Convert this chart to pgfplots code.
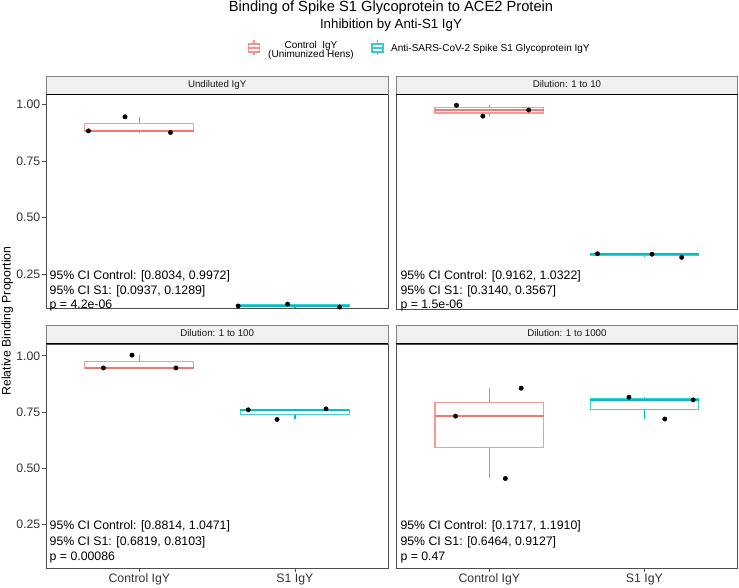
\documentclass[border=0pt]{standalone}
\usepackage{pgfplots}
\pgfplotsset{compat=1.18}
\usepackage{fontspec}
\setmainfont{Liberation Sans}
\definecolor{ctrl}{HTML}{F8766D}
\definecolor{sone}{HTML}{00BFC4}
\definecolor{stripbg}{HTML}{F0F0F0}
\definecolor{frame}{HTML}{4D4D4D}
\definecolor{axtext}{HTML}{333333}
% color, pos, left, right, lower whisker, Q1, median, Q3, upper whisker
\newcommand{\gbox}[9]{%
\addplot[#1, line width=1.1bp] coordinates {(#2,#5) (#2,#6)};
\addplot[#1, line width=1.1bp] coordinates {(#2,#8) (#2,#9)};
\addplot[draw=#1!75!white, fill=white, line width=1.2bp] coordinates {(#3,#6) (#4,#6) (#4,#8) (#3,#8)} -- cycle;
\addplot[#1, line width=2bp] coordinates {(#3,#7) (#4,#7)};}
\pgfplotsset{
  panel/.style={scale only axis, clip=false, xmin=0.4, xmax=2.6,
    axis line style={draw=frame, line width=0.7bp},
    tick align=outside, major tick length=4bp,
    tick style={draw=frame, line width=0.6bp},
    xtick pos=lower, ytick pos=left,
    ticklabel style={font=\fontsize{12.3bp}{14bp}\selectfont, text=axtext},
    yticklabel style={inner sep=1.5bp},
    xticklabel style={inner sep=2bp},
    /pgf/number format/assume math mode=true},
  top/.style={panel, width=342.3bp, height=214.6bp, ymin=0.100, ymax=1.045, xtick=\empty},
  bot/.style={panel, width=342.3bp, height=224bp, ymin=0.058, ymax=1.053,
    xtick={1,2}, xticklabels={Control IgY,S1 IgY}},
  lft/.style={ytick={0.25,0.5,0.75,1}, yticklabels={0.25,0.50,0.75,1.00}},
  rgt/.style={ytick=\empty, width=341.2bp},
  dots/.style={only marks, mark=*, mark size=2.2bp, black},
}
\begin{document}
\begin{tikzpicture}
\begin{scope}[x=1bp,y=1bp]
\path[use as bounding box] (0,0) rectangle (739,586);
% titles
\node[anchor=base, inner sep=0] at (391,574) {\fontsize{14.7bp}{16bp}\selectfont Binding of Spike S1 Glycoprotein to ACE2 Protein};
\node[anchor=base, inner sep=0] at (391,557.7) {\fontsize{13.3bp}{15bp}\selectfont Inhibition by Anti-S1 IgY};
% legend
\begin{scope}[ctrl!80!white, line width=1.1bp]
\draw (254,545.5) -- (254,542); \draw (254,534) -- (254,530.5);
\draw (248.5,534) rectangle (259.5,542); \draw (248.5,538) -- (259.5,538);
\end{scope}
\begin{scope}[sone!80!white, line width=1.1bp]
\draw (377.5,545.5) -- (377.5,542); \draw (377.5,534) -- (377.5,530.5);
\draw (372,534) rectangle (383,542); \draw (372,538) -- (383,538);
\end{scope}
\node[anchor=base, inner sep=0] at (311,537.5) {\fontsize{10bp}{11bp}\selectfont Control\ \ IgY};
\node[anchor=base, inner sep=0] at (311,528) {\fontsize{10bp}{11bp}\selectfont (Unimunized Hens)};
\node[anchor=base west, inner sep=0] at (391,534.5) {\fontsize{10bp}{11bp}\selectfont Anti-SARS-CoV-2 Spike S1 Glycoprotein IgY};
% y label
\node[rotate=90, inner sep=0] at (7.5,265) {\fontsize{12.3bp}{14bp}\selectfont Relative Binding Proportion};
\end{scope}

% ---------- TL: Undiluted
\begin{axis}[top, lft, at={(46bp,276.7bp)}, anchor=below south west]
\gbox{ctrl}{1}{0.65}{1.35}{0.875}{0.8785}{0.882}{0.913}{0.944}
\gbox{sone}{2}{1.65}{2.35}{0.106}{0.1085}{0.111}{0.115}{0.119}
\addplot[dots] coordinates {(0.673,0.882) (0.908,0.944) (1.200,0.875)};
\addplot[dots] coordinates {(1.635,0.111) (1.953,0.119) (2.287,0.106)};
\end{axis}
% ---------- TR: 1 to 10
\begin{axis}[top, rgt, at={(396.3bp,276.7bp)}, anchor=below south west]
\gbox{ctrl}{1}{0.65}{1.35}{0.949}{0.9625}{0.976}{0.9865}{0.997}
\gbox{sone}{2}{1.65}{2.35}{0.327}{0.334}{0.341}{0.342}{0.343}
\addplot[dots] coordinates {(0.788,0.997) (0.958,0.949) (1.253,0.976)};
\addplot[dots] coordinates {(1.697,0.343) (2.049,0.341) (2.240,0.327)};
\end{axis}
% ---------- BL: 1 to 100
\begin{axis}[bot, lft, at={(46bp,242.5bp)}, anchor=above north west]
\gbox{ctrl}{1}{0.65}{1.35}{0.946}{0.946}{0.946}{0.9745}{1.003}
\gbox{sone}{2}{1.65}{2.35}{0.717}{0.7385}{0.760}{0.762}{0.764}
\addplot[dots] coordinates {(0.769,0.946) (0.953,1.003) (1.235,0.946)};
\addplot[dots] coordinates {(1.700,0.760) (1.885,0.717) (2.200,0.764)};
\end{axis}
% ---------- BR: 1 to 1000
\begin{axis}[bot, rgt, at={(396.3bp,242.5bp)}, anchor=above north west]
\gbox{ctrl}{1}{0.65}{1.35}{0.455}{0.5935}{0.732}{0.794}{0.856}
\gbox{sone}{2}{1.65}{2.35}{0.719}{0.7615}{0.804}{0.810}{0.816}
\addplot[dots] coordinates {(0.782,0.732) (1.205,0.856) (1.103,0.455)};
\addplot[dots] coordinates {(1.900,0.816) (2.314,0.804) (2.131,0.719)};
\end{axis}

\begin{scope}[x=1bp,y=1bp]
% strips
\foreach \xa/\xb/\lab in {46/388.3/Undiluted IgY, 396.3/737.5/{Dilution: 1 to 10}}{
  \filldraw[fill=stripbg, draw=frame!70!white, line width=0.6bp] (\xa,491.3) rectangle (\xb,510);
  \draw[black, line width=1.2bp] (\xa,491.3) -- (\xb,491.3);
  \node[inner sep=0, text=black!90] at ({(\xa+\xb)/2},500.7) {\fontsize{9.7bp}{11bp}\selectfont\strut \lab};
}
\foreach \xa/\xb/\lab in {46/388.3/{Dilution: 1 to 100}, 396.3/737.5/{Dilution: 1 to 1000}}{
  \filldraw[fill=stripbg, draw=frame!70!white, line width=0.6bp] (\xa,242.5) rectangle (\xb,261);
  \draw[black, line width=1.2bp] (\xa,242.5) -- (\xb,242.5);
  \node[inner sep=0, text=black!90] at ({(\xa+\xb)/2},251.9) {\fontsize{9.7bp}{11bp}\selectfont\strut \lab};
}
% annotations
\begin{scope}[every node/.style={anchor=base west, inner sep=0, font=\fontsize{12.3bp}{14bp}\selectfont}]
\node at (49.5,306.8) {95\% CI Control: [0.8034, 0.9972]};
\node at (49.5,292) {95\% CI S1: [0.0937, 0.1289]};
\node at (49.5,277.3) {p = 4.2e-06};
\node at (400.3,306.8) {95\% CI Control: [0.9162, 1.0322]};
\node at (400.3,292) {95\% CI S1: [0.3140, 0.3567]};
\node at (400.3,277.3) {p = 1.5e-06};
\node at (49.5,56.6) {95\% CI Control: [0.8814, 1.0471]};
\node at (49.5,41) {95\% CI S1: [0.6819, 0.8103]};
\node at (49.5,25.3) {p = 0.00086};
\node at (400.3,56.3) {95\% CI Control: [0.1717, 1.1910]};
\node at (400.3,41) {95\% CI S1: [0.6464, 0.9127]};
\node at (400.3,26) {p = 0.47};
\end{scope}
\end{scope}
\end{tikzpicture}
\end{document}
